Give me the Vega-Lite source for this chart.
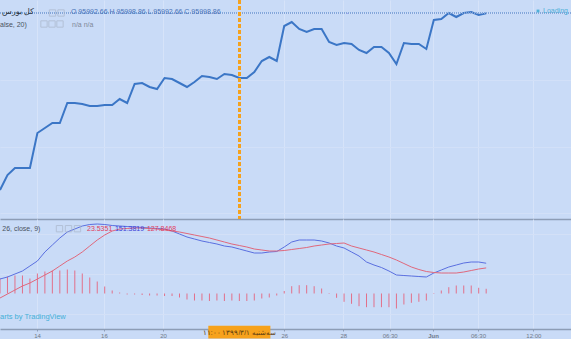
{
"$schema": "https://vega.github.io/schema/vega-lite/v6.json",
"padding": 0,
"background": "#c9dbf7",
"spacing": 0,
"config": {"view": {"stroke": null}, "font": "Liberation Sans", "concat": {"spacing": 0}},
"datasets": {"d": [
{"i":0,"close":90700,"macd":72.5,"signal":-22.5,"hist":75},
{"i":1,"close":91150,"macd":82.5,"signal":-2.5,"hist":85},
{"i":2,"close":91360,"macd":97.5,"signal":17.5,"hist":90},
{"i":3,"close":91360,"macd":112.5,"signal":37.5,"hist":90},
{"i":4,"close":91360,"macd":137.5,"signal":52.5,"hist":75},
{"i":5,"close":92410,"macd":162.5,"signal":72.5,"hist":100},
{"i":6,"close":92560,"macd":207.5,"signal":92.5,"hist":110},
{"i":7,"close":92710,"macd":242.5,"signal":112.5,"hist":115},
{"i":8,"close":92710,"macd":277.5,"signal":137.5,"hist":115},
{"i":9,"close":93310,"macd":307.5,"signal":162.5,"hist":120},
{"i":10,"close":93310,"macd":322.5,"signal":182.5,"hist":115},
{"i":11,"close":93280,"macd":337.5,"signal":207.5,"hist":100},
{"i":12,"close":93220,"macd":345,"signal":237.5,"hist":80},
{"i":13,"close":93220,"macd":347.5,"signal":267.5,"hist":60},
{"i":14,"close":93250,"macd":345,"signal":292.5,"hist":35},
{"i":15,"close":93250,"macd":340,"signal":312.5,"hist":15},
{"i":16,"close":93430,"macd":337.5,"signal":322.5,"hist":5},
{"i":17,"close":93310,"macd":335,"signal":325,"hist":-5},
{"i":18,"close":93880,"macd":332.5,"signal":327.5,"hist":-5},
{"i":19,"close":93910,"macd":330,"signal":327.5,"hist":-7.5},
{"i":20,"close":93790,"macd":327.5,"signal":325,"hist":-10},
{"i":21,"close":93730,"macd":325,"signal":322.5,"hist":-10},
{"i":22,"close":94060,"macd":322.5,"signal":317.5,"hist":-12.5},
{"i":23,"close":94030,"macd":312.5,"signal":312.5,"hist":-12.5},
{"i":24,"close":93910,"macd":297.5,"signal":307.5,"hist":-20},
{"i":25,"close":93790,"macd":282.5,"signal":300,"hist":-30},
{"i":26,"close":93940,"macd":272.5,"signal":292.5,"hist":-35},
{"i":27,"close":94120,"macd":262.5,"signal":285,"hist":-35},
{"i":28,"close":94090,"macd":255,"signal":277.5,"hist":-37.5},
{"i":29,"close":94030,"macd":247.5,"signal":267.5,"hist":-35},
{"i":30,"close":94180,"macd":237.5,"signal":257.5,"hist":-37.5},
{"i":31,"close":94150,"macd":232.5,"signal":247.5,"hist":-35},
{"i":32,"close":94060,"macd":222.5,"signal":240,"hist":-37.5},
{"i":33,"close":94060,"macd":212.5,"signal":232.5,"hist":-37.5},
{"i":34,"close":94240,"macd":202.5,"signal":222.5,"hist":-35},
{"i":35,"close":94570,"macd":202.5,"signal":217.5,"hist":-25},
{"i":36,"close":94690,"macd":207.5,"signal":212.5,"hist":-20},
{"i":37,"close":94570,"macd":210,"signal":212.5,"hist":-10},
{"i":38,"close":95620,"macd":232.5,"signal":215,"hist":12.5},
{"i":39,"close":95740,"macd":257.5,"signal":220,"hist":36.5},
{"i":40,"close":95530,"macd":267.5,"signal":225,"hist":41.5},
{"i":41,"close":95440,"macd":267.5,"signal":230,"hist":41.5},
{"i":42,"close":95530,"macd":267.5,"signal":237.5,"hist":36.5},
{"i":43,"close":95530,"macd":262.5,"signal":242.5,"hist":25},
{"i":44,"close":95140,"macd":252.5,"signal":247.5,"hist":-2.5},
{"i":45,"close":95050,"macd":237.5,"signal":250,"hist":-21.5},
{"i":46,"close":95110,"macd":227.5,"signal":252.5,"hist":-41.5},
{"i":47,"close":95080,"macd":207.5,"signal":237.5,"hist":-51.5},
{"i":48,"close":94900,"macd":187.5,"signal":227.5,"hist":-63.5},
{"i":49,"close":94810,"macd":157.5,"signal":217.5,"hist":-68.5},
{"i":50,"close":94990,"macd":142.5,"signal":207.5,"hist":-68.5},
{"i":51,"close":94990,"macd":130,"signal":195,"hist":-68.5},
{"i":52,"close":94810,"macd":112.5,"signal":182.5,"hist":-68.5},
{"i":53,"close":94480,"macd":92.5,"signal":167.5,"hist":-75},
{"i":54,"close":95110,"macd":90,"signal":150,"hist":-55},
{"i":55,"close":95080,"macd":87.5,"signal":132.5,"hist":-46.5},
{"i":56,"close":95080,"macd":85,"signal":120,"hist":-41.5},
{"i":57,"close":94930,"macd":82.5,"signal":110,"hist":-35},
{"i":58,"close":95800,"macd":102.5,"signal":105,"hist":2.5},
{"i":59,"close":95830,"macd":117.5,"signal":102.5,"hist":15},
{"i":60,"close":96010,"macd":132.5,"signal":102.5,"hist":31.5},
{"i":61,"close":95890,"macd":142.5,"signal":102.5,"hist":40},
{"i":62,"close":96010,"macd":152.5,"signal":107.5,"hist":40},
{"i":63,"close":96040,"macd":157.5,"signal":115,"hist":40},
{"i":64,"close":95950,"macd":157.5,"signal":122.5,"hist":28.5},
{"i":65,"close":95998.86,"macd":151.38,"signal":127.85,"hist":23.54}
]},
"data": {"name": "d"},
"vconcat": [
{
"width": 571, "height": 219,
"layer": [
{"mark": {"type": "line", "color": "#3b76c6", "strokeWidth": 2, "clip": true},
 "encoding": {
  "x": {"field": "i", "type": "quantitative", "title": null, "scale": {"domain": [0, 76.34], "nice": false, "zero": false},
        "axis": {"title": null, "labels": false, "ticks": false, "domain": true, "domainColor": "#8d9db6", "domainWidth": 1.5, "grid": true, "gridColor": "#d6e3f9", "gridWidth": 1, "values": [4.95,13.9,21.8,38,45.9,52.1,57.9,63.9,71.3]}},
  "y": {"field": "close", "type": "quantitative", "title": null, "scale": {"domain": [89830, 96400], "nice": false, "zero": false},
        "axis": {"title": null, "labels": false, "ticks": false, "domain": false, "grid": true, "gridColor": "#d2e0f8", "gridWidth": 1, "values": [90000,90500,91000,91500,92000,92500,93000,93500,94000,94500,95000,95500,96000]}}
 }},
{"mark": {"type": "rule", "color": "#86a6da", "strokeDash": [1, 1], "strokeWidth": 1, "clip": true},
 "encoding": {"y": {"datum": 95998.86, "type": "quantitative"}}},
{"mark": {"type": "rule", "color": "#f5a21e", "strokeDash": [4, 2], "strokeWidth": 2, "clip": true},
 "encoding": {"x": {"datum": 32, "type": "quantitative"}}},
{"data": {"values": [{"i": 4.6, "close": 96040, "t": "کل بورس"}]},
 "mark": {"type": "text", "align": "right", "baseline": "middle", "fontSize": 8, "color": "#2e3440", "clip": true},
 "encoding": {"x": {"field": "i", "type": "quantitative", "title": null}, "y": {"field": "close", "type": "quantitative", "title": null}, "text": {"field": "t"}}},
{"data": {"values": [{"i": 9.49, "close": 96040, "t": "O 95992.66 H 95998.86 L 95992.66 C 95998.86"}]},
 "mark": {"type": "text", "align": "left", "baseline": "middle", "fontSize": 7, "color": "#4a74b8", "clip": true},
 "encoding": {"x": {"field": "i", "type": "quantitative", "title": null}, "y": {"field": "close", "type": "quantitative", "title": null}, "text": {"field": "t"}}},
{"data": {"values": [{"i": 0, "close": 95650, "t": "alse, 20)"}]},
 "mark": {"type": "text", "align": "left", "baseline": "middle", "fontSize": 7, "color": "#4a5260", "clip": true},
 "encoding": {"x": {"field": "i", "type": "quantitative", "title": null}, "y": {"field": "close", "type": "quantitative", "title": null}, "text": {"field": "t"}}},
{"data": {"values": [{"i": 9.63, "close": 95650, "t": "n/a n/a"}]},
 "mark": {"type": "text", "align": "left", "baseline": "middle", "fontSize": 7, "color": "#7f8898", "clip": true},
 "encoding": {"x": {"field": "i", "type": "quantitative", "title": null}, "y": {"field": "close", "type": "quantitative", "title": null}, "text": {"field": "t"}}},
{"data": {"values": [{"i": 7.02, "close": 96010}, {"i": 8.16, "close": 96010}, {"i": 5.88, "close": 95680}, {"i": 6.95, "close": 95680}, {"i": 8.02, "close": 95680}]},
 "mark": {"type": "point", "shape": "square", "size": 40, "filled": false, "stroke": "#aab6ca", "strokeWidth": 1, "clip": true},
 "encoding": {"x": {"field": "i", "type": "quantitative", "title": null}, "y": {"field": "close", "type": "quantitative", "title": null}}},
{"data": {"values": [{"i": 71.93, "close": 96070}]},
 "mark": {"type": "point", "shape": "square", "size": 8, "filled": true, "color": "#4fb0d8", "opacity": 1, "clip": true},
 "encoding": {"x": {"field": "i", "type": "quantitative", "title": null}, "y": {"field": "close", "type": "quantitative", "title": null}}},
{"data": {"values": [{"i": 72.6, "close": 96070, "t": "Loading"}]},
 "mark": {"type": "text", "align": "left", "baseline": "middle", "fontSize": 7, "color": "#4fb0d8", "clip": true},
 "encoding": {"x": {"field": "i", "type": "quantitative", "title": null}, "y": {"field": "close", "type": "quantitative", "title": null}, "text": {"field": "t"}}}
]
},
{
"width": 571, "height": 110,
"layer": [
{"mark": {"type": "rule", "color": "#e2708a", "strokeWidth": 1, "clip": true},
 "encoding": {
  "x": {"field": "i", "type": "quantitative", "title": null, "scale": {"domain": [0, 76.34], "nice": false, "zero": false},
        "axis": {"title": null, "labels": true, "ticks": true, "tickSize": 2, "tickColor": "#8d9db6", "domain": true, "domainColor": "#8d9db6", "domainWidth": 1.5, "grid": true, "gridColor": "#d6e3f9", "labelFontSize": 6, "labelColor": "#6f7988", "labelPadding": 1,
                 "labelFontWeight": {"expr": "datum.value == 57.9 ? 'bold' : 'normal'"},
                 "values": [4.95,13.9,21.8,38,45.9,52.1,57.9,63.9,71.3],
                 "labelExpr": "['14','16','20','26','28','06:30','Jun','06:30','12:00'][indexof([4.95,13.9,21.8,38,45.9,52.1,57.9,63.9,71.3], datum.value)]"}},
  "y": {"field": "hist", "type": "quantitative", "title": null, "scale": {"domain": [-177.5, 372.5], "nice": false, "zero": false},
        "axis": {"title": null, "labels": false, "ticks": false, "domain": false, "grid": true, "gridColor": "#d3e0f7", "values": [-100, 0, 100, 200, 300]}},
  "y2": {"datum": 0}
 }},
{"mark": {"type": "line", "color": "#5a6fe0", "strokeWidth": 1, "clip": true},
 "encoding": {"x": {"field": "i", "type": "quantitative", "title": null}, "y": {"field": "macd", "type": "quantitative", "title": null}}},
{"mark": {"type": "line", "color": "#e0687c", "strokeWidth": 1, "clip": true},
 "encoding": {"x": {"field": "i", "type": "quantitative", "title": null}, "y": {"field": "signal", "type": "quantitative", "title": null}}},
{"data": {"values": [{"i": 0.3, "macd": 324, "t": "26, close, 9)"}]},
 "mark": {"type": "text", "align": "left", "baseline": "middle", "fontSize": 7, "color": "#4a5260", "clip": true},
 "encoding": {"x": {"field": "i", "type": "quantitative", "title": null}, "y": {"field": "macd", "type": "quantitative", "title": null}, "text": {"field": "t"}}},
{"data": {"values": [{"i": 7.95, "macd": 324}, {"i": 9.16, "macd": 324}, {"i": 10.36, "macd": 324}]},
 "mark": {"type": "point", "shape": "square", "size": 40, "filled": false, "stroke": "#aab6ca", "strokeWidth": 1, "clip": true},
 "encoding": {"x": {"field": "i", "type": "quantitative", "title": null}, "y": {"field": "macd", "type": "quantitative", "title": null}}},
{"data": {"values": [{"i": 11.63, "macd": 324, "t": "23.5351"}, {"i": 19.65, "macd": 324, "t": "127.8468"}]},
 "mark": {"type": "text", "align": "left", "baseline": "middle", "fontSize": 7, "color": "#e0405e", "clip": true},
 "encoding": {"x": {"field": "i", "type": "quantitative", "title": null}, "y": {"field": "macd", "type": "quantitative", "title": null}, "text": {"field": "t"}}},
{"data": {"values": [{"i": 15.37, "macd": 324, "t": "151.3819"}]},
 "mark": {"type": "text", "align": "left", "baseline": "middle", "fontSize": 7, "color": "#3f43d8", "clip": true},
 "encoding": {"x": {"field": "i", "type": "quantitative", "title": null}, "y": {"field": "macd", "type": "quantitative", "title": null}, "text": {"field": "t"}}},
{"data": {"values": [{"i": 0, "macd": -117.5, "t": "arts by TradingView"}]},
 "mark": {"type": "text", "align": "left", "baseline": "middle", "fontSize": 7.5, "color": "#45b0d8", "clip": true},
 "encoding": {"x": {"field": "i", "type": "quantitative", "title": null}, "y": {"field": "macd", "type": "quantitative", "title": null}, "text": {"field": "t"}}},
{"data": {"values": [{"i": 27.85, "i2": 36.15, "macd": -161, "m2": -225}]},
 "mark": {"type": "rect", "color": "#f7a21b", "opacity": 1},
 "encoding": {"x": {"field": "i", "type": "quantitative", "title": null}, "x2": {"field": "i2"}, "y": {"field": "macd", "type": "quantitative", "title": null}, "y2": {"field": "m2"}}},
{"data": {"values": [{"i": 32, "macd": -196, "t": "سه‌شنبه ۱۳۹۹/۳/۱ ۱۱:۰۰"}]},
 "mark": {"type": "text", "align": "center", "baseline": "middle", "fontSize": 6.5, "color": "#5a3c10"},
 "encoding": {"x": {"field": "i", "type": "quantitative", "title": null}, "y": {"field": "macd", "type": "quantitative", "title": null}, "text": {"field": "t"}}}
]
}
]
}
